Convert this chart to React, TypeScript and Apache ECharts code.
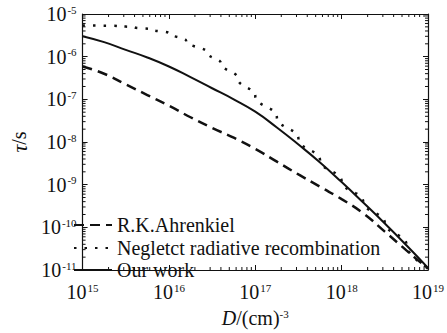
import React, { useEffect, useRef } from "react";
import * as echarts from "echarts";

// Values, stored as base-10 exponents
const ahrenkielX = [15.0, 15.25, 15.5, 15.75, 16.0, 16.25, 16.5, 16.75, 17.0, 17.25, 17.5, 17.75, 18.0, 18.25, 18.5, 18.75, 19.0];
const ahrenkielY = [-6.23, -6.4, -6.65, -6.9, -7.15, -7.42, -7.67, -7.9, -8.16, -8.46, -8.76, -9.05, -9.34, -9.67, -10.1, -10.54, -10.97];

const neglectX = [15.0, 15.4, 15.6, 15.8, 16.0, 16.2, 16.45, 16.6, 16.8, 17.0, 17.25, 17.5, 17.75, 18.0, 18.25, 18.5, 18.75, 19.0];
const neglectY = [-5.27, -5.28, -5.31, -5.36, -5.45, -5.63, -5.92, -6.15, -6.52, -6.92, -7.42, -7.93, -8.43, -8.92, -9.4, -9.9, -10.4, -10.95];

const ourX = [15.0, 15.25, 15.5, 15.75, 16.0, 16.25, 16.5, 16.75, 17.0, 17.25, 17.5, 17.75, 18.0, 18.25, 18.5, 18.75, 19.0];
const ourY = [-5.52, -5.66, -5.84, -6.02, -6.23, -6.48, -6.74, -7.0, -7.29, -7.66, -8.06, -8.48, -8.94, -9.42, -9.91, -10.42, -10.95];

const seriesNames = ["R.K.Ahrenkiel", "Negletct radiative recombination", "Our work"];

const xMin = 1e15;
const xMax = 1e19;
const yMin = 1e-11;
const yMax = 1e-5;
const xDecades = [15, 16, 17, 18];
const yDecades = [-11, -10, -9, -8, -7, -6];
const minorMultipliers = [2, 3, 4, 5, 6, 7, 8, 9];

const FONT = "Liberation Serif, DejaVu Serif, serif";
const INK = "#111";

function toPairs(xs: number[], ys: number[]) {
  return xs.map((x, i) => [Math.pow(10, x), Math.pow(10, ys[i])]);
}

function expLabel(v: number) {
  const e = Math.round(Math.log10(v));
  return `{a|10}{b|${e}}`;
}

const labelRich = {
  a: { fontFamily: FONT, fontSize: 20, color: INK, lineHeight: 20, verticalAlign: "bottom" },
  b: { fontFamily: FONT, fontSize: 11, color: INK, lineHeight: 13, verticalAlign: "top", padding: [0, 0, 0, 1] },
};

const legendRowTops = [215, 238, 260];

export default function App() {
  const ref = useRef<HTMLDivElement>(null);
  useEffect(() => {
    if (!ref.current) return;
    const chart = echarts.init(ref.current, null, { renderer: "svg" });

    const xMinor: number[][] = [];
    xDecades.forEach((d) => minorMultipliers.forEach((m) => xMinor.push([m * Math.pow(10, d), yMin])));
    const yMinor: number[][] = [];
    yDecades.forEach((d) => minorMultipliers.forEach((m) => yMinor.push([xMin, m * Math.pow(10, d)])));

    const axisLine = { show: true, lineStyle: { color: INK, width: 1.2 } };

    chart.setOption({
      animation: false,
      backgroundColor: "#fff",
      textStyle: { fontFamily: FONT },
      grid: { left: 73, right: 15, top: 14, bottom: 55 },
      legend: seriesNames.map((name, i) => ({
        data: [name],
        orient: "vertical",
        left: 73,
        top: legendRowTops[i],
        padding: 0,
        itemWidth: 38,
        itemHeight: 14,
        itemStyle: { opacity: 0 },
        textStyle: { fontFamily: FONT, fontSize: 20, color: INK, lineHeight: 18 },
      })),
      xAxis: [
        {
          type: "log",
          min: xMin,
          max: xMax,
          position: "bottom",
          axisLine,
          axisTick: { show: true, inside: true, length: 5, lineStyle: { color: INK } },
          splitLine: { show: false },
          axisLabel: { formatter: expLabel, rich: labelRich, margin: 12 },
          name: "{i|D}{n|/(cm)}{s|-3}",
          nameLocation: "middle",
          nameGap: 38,
          nameTextStyle: {
            rich: {
              i: { fontFamily: FONT, fontStyle: "italic", fontSize: 20, color: INK, lineHeight: 20, verticalAlign: "bottom" },
              n: { fontFamily: FONT, fontSize: 20, color: INK, lineHeight: 20, verticalAlign: "bottom" },
              s: { fontFamily: FONT, fontSize: 11, color: INK, lineHeight: 13, verticalAlign: "top" },
            },
          },
        },
        {
          type: "log",
          min: xMin,
          max: xMax,
          position: "top",
          axisLine,
          axisTick: { show: true, inside: true, length: 5, lineStyle: { color: INK } },
          axisLabel: { show: false },
          splitLine: { show: false },
        },
      ],
      yAxis: [
        {
          type: "log",
          min: yMin,
          max: yMax,
          position: "left",
          axisLine,
          axisTick: { show: true, inside: true, length: 5, lineStyle: { color: INK } },
          splitLine: { show: false },
          axisLabel: { formatter: expLabel, rich: labelRich, margin: 6 },
          name: "{t|τ}{s|/s}",
          nameLocation: "middle",
          nameGap: 46,
          nameRotate: 90,
          nameTextStyle: {
            rich: {
              t: { fontFamily: FONT, fontStyle: "italic", fontSize: 22, color: INK },
              s: { fontFamily: FONT, fontSize: 20, color: INK },
            },
          },
        },
        {
          type: "log",
          min: yMin,
          max: yMax,
          position: "right",
          axisLine,
          axisTick: { show: true, inside: true, length: 5, lineStyle: { color: INK } },
          axisLabel: { show: false },
          splitLine: { show: false },
        },
      ],
      series: [
        {
          name: seriesNames[0],
          type: "line",
          data: toPairs(ahrenkielX, ahrenkielY),
          smooth: 0.5,
          symbol: "none",
          lineStyle: { color: INK, width: 2.5, type: [10, 6] },
          itemStyle: { color: INK },
        },
        {
          name: seriesNames[1],
          type: "line",
          data: toPairs(neglectX, neglectY),
          smooth: 0.5,
          smoothMonotone: "y",
          symbol: "none",
          lineStyle: { color: INK, width: 2.5, type: [2.5, 8] },
          itemStyle: { color: INK },
        },
        {
          name: seriesNames[2],
          type: "line",
          data: toPairs(ourX, ourY),
          smooth: 0.5,
          symbol: "none",
          lineStyle: { color: INK, width: 2 },
          itemStyle: { color: INK },
        },
        {
          name: "xMinorTicks",
          type: "custom",
          silent: true,
          data: xMinor,
          renderItem: (params: any, api: any) => {
            const v = api.value(0);
            const b = api.coord([v, yMin]);
            const t = api.coord([v, yMax]);
            return {
              type: "group",
              children: [
                { type: "line", shape: { x1: b[0], y1: b[1], x2: b[0], y2: b[1] - 3 }, style: { stroke: INK, lineWidth: 1 } },
                { type: "line", shape: { x1: t[0], y1: t[1], x2: t[0], y2: t[1] + 3 }, style: { stroke: INK, lineWidth: 1 } },
              ],
            };
          },
        },
        {
          name: "yMinorTicks",
          type: "custom",
          silent: true,
          data: yMinor,
          renderItem: (params: any, api: any) => {
            const v = api.value(1);
            const l = api.coord([xMin, v]);
            const r = api.coord([xMax, v]);
            return {
              type: "group",
              children: [
                { type: "line", shape: { x1: l[0], y1: l[1], x2: l[0] + 3, y2: l[1] }, style: { stroke: INK, lineWidth: 1 } },
                { type: "line", shape: { x1: r[0], y1: r[1], x2: r[0] - 3, y2: r[1] }, style: { stroke: INK, lineWidth: 1 } },
              ],
            };
          },
        },
      ],
    });
    return () => chart.dispose();
  }, []);
  return <div ref={ref} style={{ width: 447, height: 333, position: "absolute", left: 0, top: 0 }} />;
}
